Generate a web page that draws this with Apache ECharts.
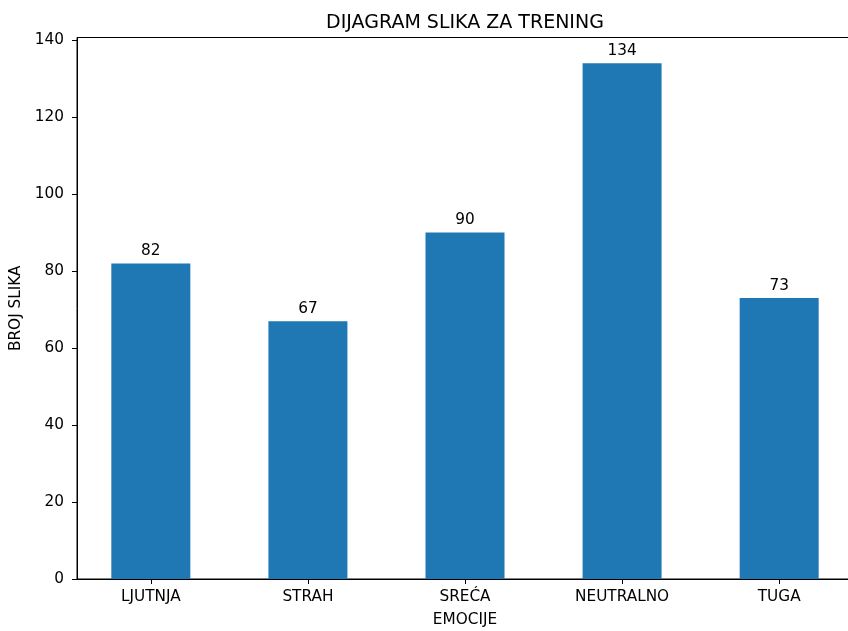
<!DOCTYPE html>
<html>
<head>
<meta charset="utf-8">
<script src="https://cdn.jsdelivr.net/npm/echarts@6/dist/echarts.min.js"></script>
<style>
html, body { margin: 0; padding: 0; background: #fff; overflow: hidden; }
#chart { width: 848px; height: 631px; }
</style>
</head>
<body>
<div id="chart"></div>
<script>
// podaci
let emocije = ['LJUTNJA', 'STRAH', 'SREĆA', 'NEUTRALNO', 'TUGA'];
let brojSlika = [82, 67, 90, 134, 73];
let yTicks = [0, 20, 40, 60, 80, 100, 120, 140];

let font = 'DejaVu Sans';
let fs = 15.3;
let positions = emocije.map((e, i) => i);

let chart = echarts.init(document.getElementById('chart'));
let option = {
    animation: false,
    textStyle: { fontFamily: font, color: '#000' },
    title: {
        text: 'DIJAGRAM SLIKA ZA TRENING',
        left: 460,
        textAlign: 'center',
        top: 9,
        textStyle: { fontFamily: font, fontSize: 19, fontWeight: 'normal', color: '#000' }
    },
    grid: {
        left: 77,
        top: 37.5,
        width: 776,
        height: 541.5,
        containLabel: false,
        outerBoundsMode: 'none',
        show: true,
        borderColor: '#000',
        borderWidth: 1,
        backgroundColor: '#fff'
    },
    xAxis: {
        type: 'value',
        min: -0.47,
        max: 4.47,
        name: 'EMOCIJE',
        nameLocation: 'middle',
        nameGap: 33.5,
        nameTextStyle: { fontFamily: font, fontSize: fs, color: '#000' },
        splitLine: { show: false },
        axisLine: { show: true, onZero: false, lineStyle: { color: '#000', width: 1 } },
        axisTick: { show: true, length: 5, customValues: positions, lineStyle: { color: '#000' } },
        axisLabel: {
            customValues: positions,
            fontFamily: font, fontSize: fs, color: '#000', margin: 11,
            formatter: function (v) { return emocije[Math.round(v)]; }
        }
    },
    yAxis: {
        type: 'value',
        min: 0,
        max: 140.7,
        name: 'BROJ SLIKA',
        nameLocation: 'middle',
        nameGap: 51,
        nameTextStyle: { fontFamily: font, fontSize: fs, color: '#000' },
        splitLine: { show: false },
        axisLine: { show: true, onZero: false, lineStyle: { color: '#000', width: 1 } },
        axisTick: { show: true, length: 5, customValues: yTicks, lineStyle: { color: '#000' } },
        axisLabel: { customValues: yTicks, fontFamily: font, fontSize: fs, color: '#000', margin: 13 }
    },
    series: [{
        type: 'bar',
        barWidth: 79,
        itemStyle: { color: '#1f77b4', borderWidth: 0 },
        label: {
            show: true,
            position: 'top',
            distance: 5,
            fontFamily: font,
            fontSize: fs,
            color: '#000',
            formatter: function (p) { return p.value[1]; }
        },
        data: brojSlika.map((v, i) => [positions[i], v])
    }]
};
chart.setOption(option);
</script>
</body>
</html>
